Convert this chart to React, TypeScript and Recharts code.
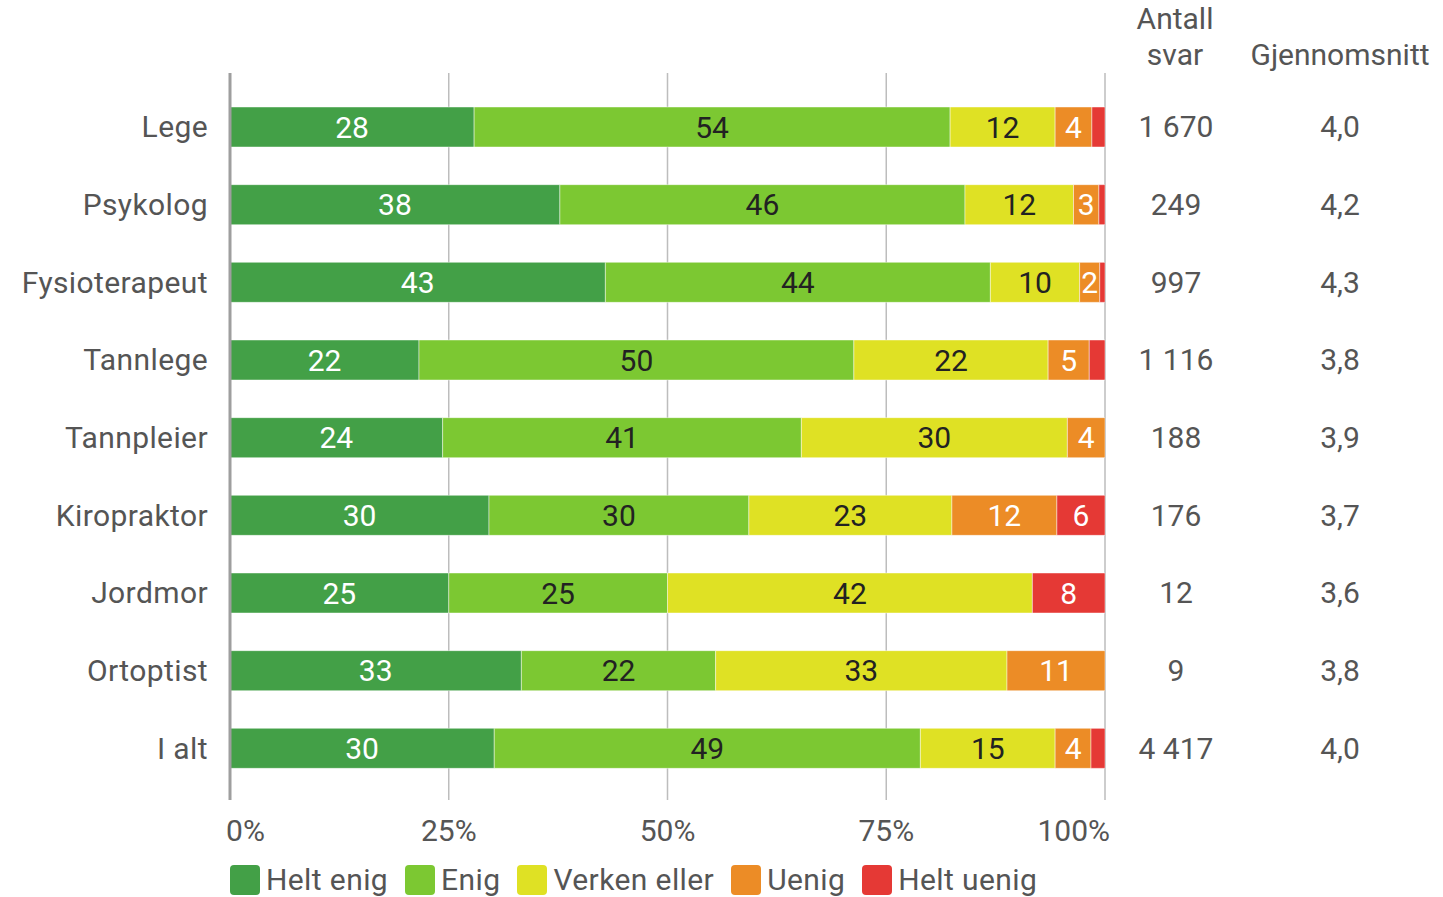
import { BarChart, Bar, XAxis, YAxis, CartesianGrid, LabelList } from "recharts";

const categories = ["Lege", "Psykolog", "Fysioterapeut", "Tannlege", "Tannpleier", "Kiropraktor", "Jordmor", "Ortoptist", "I alt"];
const heltEnig = [27.9, 37.7, 42.9, 21.6, 24.3, 29.6, 25.0, 33.3, 30.2];
const enig = [54.4, 46.3, 44.0, 49.7, 41.0, 29.7, 25.0, 22.2, 48.7];
const verken = [12.0, 12.4, 10.2, 22.2, 30.4, 23.2, 41.7, 33.3, 15.4];
const uenig = [4.2, 2.9, 2.3, 4.7, 4.3, 12.0, 0, 11.2, 4.1];
const heltUenig = [1.5, 0.7, 0.6, 1.8, 0, 5.5, 8.3, 0, 1.6];
const antallSvar = [1670, 249, 997, 1116, 188, 176, 12, 9, 4417];
const gjennomsnitt = [4.0, 4.2, 4.3, 3.8, 3.9, 3.7, 3.6, 3.8, 4.0];
const xTicks = [0, 25, 50, 75, 100];

const series = [
  { key: "heltEnig", name: "Helt enig", color: "#43a047", text: "#fff" },
  { key: "enig", name: "Enig", color: "#7cc832", text: "#222" },
  { key: "verken", name: "Verken eller", color: "#dfe124", text: "#222" },
  { key: "uenig", name: "Uenig", color: "#ec8c26", text: "#fff" },
  { key: "heltUenig", name: "Helt uenig", color: "#e53935", text: "#fff" },
];

const data = categories.map((name, i) => ({
  name,
  heltEnig: heltEnig[i],
  enig: enig[i],
  verken: verken[i],
  uenig: uenig[i],
  heltUenig: heltUenig[i],
}));

const FONT = "Roboto, sans-serif";
const GREY = "#555";
const FS = 30;
const LS = 0.4;

const fmtCount = (n: number) => String(n).replace(/\B(?=(\d{3})+(?!\d))/g, " ");
const fmtMean = (n: number) => n.toFixed(1).replace(".", ",");

function LeftTick({ x, y, payload }: any) {
  return (
    <text x={x - 14} y={y} textAnchor="end" dominantBaseline="central" fontSize={FS} letterSpacing={LS} fill={GREY} fontFamily={FONT}>
      {payload.value}
    </text>
  );
}

function RightTick({ y, payload }: any) {
  const i = categories.indexOf(payload.value);
  return (
    <g fontSize={FS} fill={GREY} fontFamily={FONT}>
      <text x={1176} y={y} textAnchor="middle" dominantBaseline="central">{fmtCount(antallSvar[i])}</text>
      <text x={1340} y={y} textAnchor="middle" dominantBaseline="central">{fmtMean(gjennomsnitt[i])}</text>
    </g>
  );
}

function BottomTick({ x, y, payload }: any) {
  const v = payload.value;
  const anchor = v === 0 ? "start" : v === 100 ? "end" : "middle";
  const dx = v === 0 ? -4 : v === 100 ? 5 : 0;
  return (
    <text x={x + dx} y={y + 22} textAnchor={anchor} dominantBaseline="central" fontSize={FS} fill={GREY} fontFamily={FONT}>
      {v}%
    </text>
  );
}

const makeLabel = (color: string) => (props: any) => {
  const { x, y, width, height, value } = props;
  if (value == null || value < 2) return null;
  return (
    <text
      x={x + width / 2}
      y={y + height / 2}
      textAnchor="middle"
      dominantBaseline="central"
      fontSize={FS}
      fill={color}
      fontFamily={FONT}
    >
      {Math.round(value)}
    </text>
  );
};

export default function App() {
  return (
    <div style={{ position: "absolute", left: 0, top: 0, width: 1443, height: 897, background: "#fff", fontFamily: FONT }}>
      <BarChart
        width={1443}
        height={897}
        data={data}
        layout="vertical"
        margin={{ top: 73, right: 0, bottom: 37, left: 10 }}
        barSize={40}
      >
        <CartesianGrid horizontal={false} stroke="#bdbdbd" strokeWidth={1.5} yAxisId="left" />
        <XAxis
          type="number"
          domain={[0, 100]}
          ticks={xTicks}
          allowDataOverflow
          axisLine={false}
          tickLine={false}
          tick={<BottomTick />}
          height={60}
          interval={0}
        />
        <YAxis
          yAxisId="left"
          type="category"
          dataKey="name"
          width={220}
          padding={{ top: 15, bottom: 13 }}
          axisLine={{ stroke: "#9e9e9e", strokeWidth: 3 }}
          tickLine={false}
          tick={<LeftTick />}
          interval={0}
        />
        <YAxis
          yAxisId="right"
          orientation="right"
          type="category"
          dataKey="name"
          width={338}
          padding={{ top: 15, bottom: 13 }}
          axisLine={false}
          tickLine={false}
          tick={<RightTick />}
          interval={0}
        />
        {series.map((s) => (
          <Bar
            key={s.key}
            dataKey={s.key}
            name={s.name}
            stackId="a"
            yAxisId="left"
            fill={s.color}
            stroke="rgba(255,255,255,0.45)"
            strokeWidth={1}
            isAnimationActive={false}
          >
            <LabelList dataKey={s.key} content={makeLabel(s.text)} />
          </Bar>
        ))}
      </BarChart>

      <div style={{ position: "absolute", left: 1105, width: 140, top: 1, textAlign: "center", fontSize: FS, lineHeight: "36px", color: GREY }}>
        Antall
        <br />
        svar
      </div>
      <div style={{ position: "absolute", left: 1245, width: 190, top: 37, textAlign: "center", fontSize: FS, lineHeight: "36px", color: GREY }}>
        Gjennomsnitt
      </div>

      <div style={{ position: "absolute", left: 230, top: 865, display: "flex", alignItems: "center", fontSize: FS, letterSpacing: LS, lineHeight: "30px", color: GREY }}>
        {series.map((s) => (
          <div key={s.key} style={{ display: "flex", alignItems: "center", marginRight: 17 }}>
            <span style={{ width: 30, height: 30, borderRadius: 4, background: s.color, display: "inline-block", marginRight: 6 }} />
            <span>{s.name}</span>
          </div>
        ))}
      </div>
    </div>
  );
}
